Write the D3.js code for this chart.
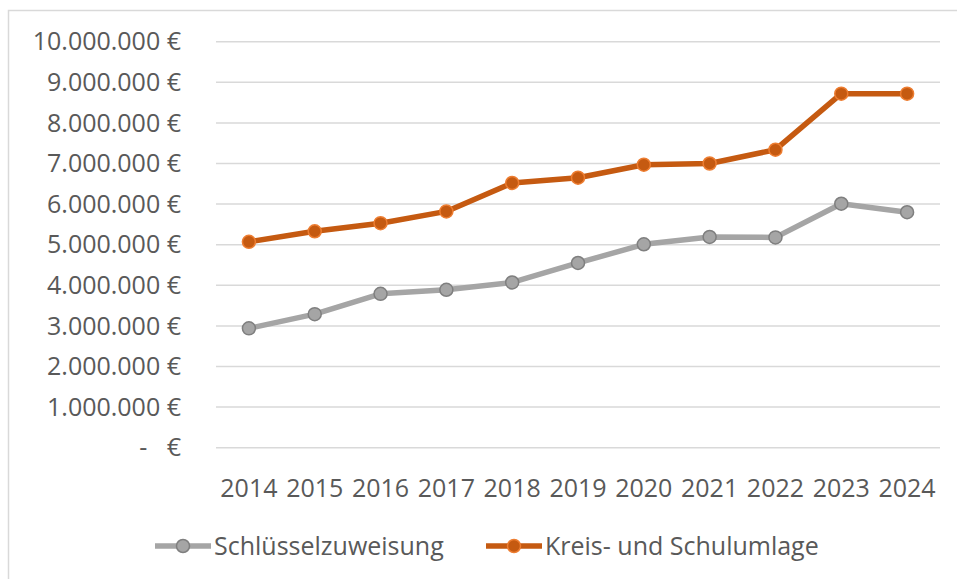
<!DOCTYPE html>
<html>
<head>
<meta charset="utf-8">
<script src="https://cdn.jsdelivr.net/npm/d3@7"></script>
<style>
  body { margin: 0; background: #fff; }
  text { font-family: "Open Sans", sans-serif; fill: #595959; }
</style>
</head>
<body>
<div id="chart"></div>
<script>
// years on the x axis
const years = ["2014", "2015", "2016", "2017", "2018", "2019", "2020", "2021", "2022", "2023", "2024"];

// series values (euro)
const schluesselzuweisung = [2940000, 3290000, 3790000, 3890000, 4070000, 4550000, 5010000, 5190000, 5180000, 6010000, 5800000];
const kreisSchulumlage = [5070000, 5330000, 5530000, 5820000, 6520000, 6650000, 6970000, 7000000, 7340000, 8720000, 8720000];

const seriesNames = ["Schlüsselzuweisung", "Kreis- und Schulumlage"];
const yTicks = [0, 1000000, 2000000, 3000000, 4000000, 5000000, 6000000, 7000000, 8000000, 9000000, 10000000];

const width = 957;
const height = 579;
const margin = { top: 42, right: 17, bottom: 132, left: 216 };
const fontSize = "25px";

const svg = d3.select("#chart")
    .append("svg")
    .attr("width", width)
    .attr("height", height);

// chart area border (left and top only visible)
svg.append("rect")
    .attr("x", 8.5)
    .attr("y", 10.5)
    .attr("width", width + 20)
    .attr("height", height + 20)
    .attr("fill", "none")
    .attr("stroke", "#d9d9d9")
    .attr("stroke-width", 1.5);

const xScale = d3.scaleBand()
    .domain(years)
    .range([margin.left, width - margin.right]);

const yScale = d3.scaleLinear()
    .domain([0, 10000000])
    .range([height - margin.bottom + 0.7, margin.top - 0.3]);

//german style number format
function euro(v) {
    if (v === 0) return "-   €";
    return String(v).replace(/\B(?=(\d{3})+(?!\d))/g, ".") + " €";
}

//gridlines
svg.append("g")
    .selectAll("line")
    .data(yTicks)
    .enter()
    .append("line")
    .attr("x1", margin.left)
    .attr("x2", width - margin.right)
    .attr("y1", function(d) { return yScale(d); })
    .attr("y2", function(d) { return yScale(d); })
    .attr("stroke", "#d9d9d9")
    .attr("stroke-width", 1.5);

//y axis labels
svg.append("g")
    .selectAll("text")
    .data(yTicks)
    .enter()
    .append("text")
    .attr("x", 181)
    .attr("y", function(d) { return yScale(d); })
    .attr("dy", "0.35em")
    .attr("text-anchor", "end")
    .style("font-size", fontSize)
    .style("white-space", "pre")
    .text(function(d) { return euro(d); });

//x axis labels
svg.append("g")
    .selectAll("text")
    .data(years)
    .enter()
    .append("text")
    .attr("x", function(d) { return xScale(d) + xScale.bandwidth() / 2; })
    .attr("y", 488)
    .attr("dy", "0.35em")
    .attr("text-anchor", "middle")
    .style("font-size", fontSize)
    .text(function(d) { return d; });

const series = [
    { name: seriesNames[0], values: schluesselzuweisung, line: "#a5a5a5", fill: "#a5a5a5", stroke: "#7f7f7f" },
    { name: seriesNames[1], values: kreisSchulumlage, line: "#c55a11", fill: "#c55a11", stroke: "#ed7d31" }
];

const line = d3.line()
    .x(function(d, i) { return xScale(years[i]) + xScale.bandwidth() / 2; })
    .y(function(d) { return yScale(d); });

series.forEach(function(s) {
    svg.append("path")
        .datum(s.values)
        .attr("d", line)
        .attr("fill", "none")
        .attr("stroke", s.line)
        .attr("stroke-width", 5.5)
        .attr("stroke-linejoin", "round");

    svg.append("g")
        .selectAll("circle")
        .data(s.values)
        .enter()
        .append("circle")
        .attr("cx", function(d, i) { return xScale(years[i]) + xScale.bandwidth() / 2; })
        .attr("cy", function(d) { return yScale(d); })
        .attr("r", 6.5)
        .attr("fill", s.fill)
        .attr("stroke", s.stroke)
        .attr("stroke-width", 1.5);
});

//legend
const legendX = [155, 486];
const legendY = 546;

series.forEach(function(s, i) {
    const g = svg.append("g")
        .attr("transform", "translate(" + legendX[i] + "," + legendY + ")");

    g.append("line")
        .attr("x1", 0)
        .attr("x2", 56)
        .attr("stroke", s.line)
        .attr("stroke-width", 5.5);

    g.append("circle")
        .attr("cx", 28)
        .attr("r", 6.5)
        .attr("fill", s.fill)
        .attr("stroke", s.stroke)
        .attr("stroke-width", 1.5);

    g.append("text")
        .attr("x", 59)
        .attr("dy", "0.35em")
        .style("font-size", fontSize)
        .text(s.name);
});
</script>
</body>
</html>
